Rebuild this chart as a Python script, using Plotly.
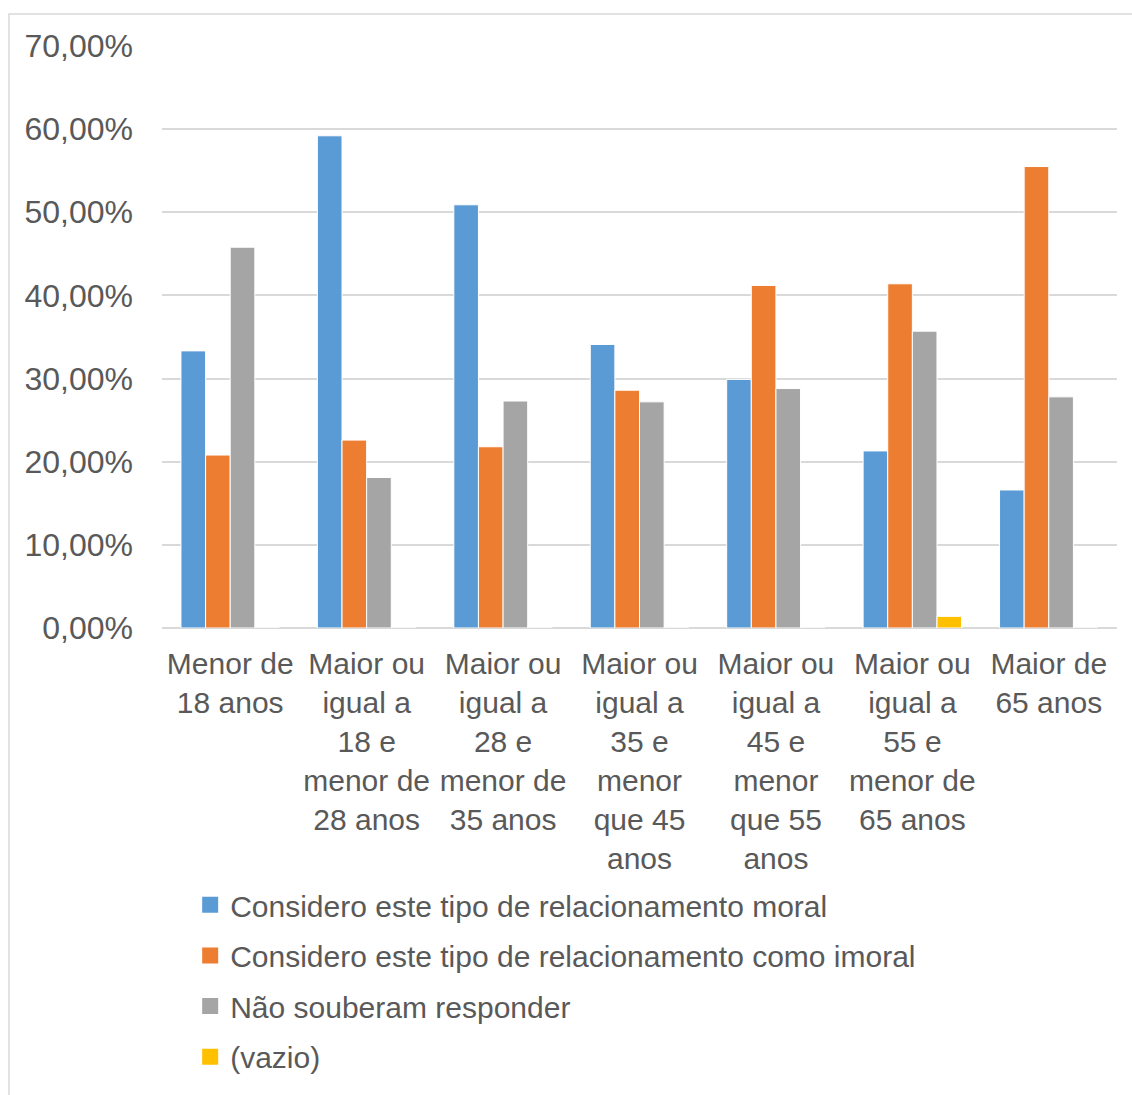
import plotly.graph_objects as go

categories = [
    "Menor de<br>18 anos",
    "Maior ou<br>igual a<br>18 e<br>menor de<br>28 anos",
    "Maior ou<br>igual a<br>28 e<br>menor de<br>35 anos",
    "Maior ou<br>igual a<br>35 e<br>menor<br>que 45<br>anos",
    "Maior ou<br>igual a<br>45 e<br>menor<br>que 55<br>anos",
    "Maior ou<br>igual a<br>55 e<br>menor de<br>65 anos",
    "Maior de<br>65 anos",
]

moral = [33.33, 59.2, 50.9, 34.1, 29.9, 21.3, 16.6]
imoral = [20.8, 22.6, 21.8, 28.6, 41.2, 41.4, 55.5]
nao_souberam = [45.8, 18.1, 27.3, 27.2, 28.8, 35.7, 27.8]
vazio = [0, 0, 0, 0, 0, 1.4, 0]

series_names = [
    "Considero este tipo de relacionamento moral",
    "Considero este tipo de relacionamento como imoral",
    "Não souberam responder",
    "(vazio)",
]
series_values = [moral, imoral, nao_souberam, vazio]
series_colors = ["#5B9BD5", "#ED7D31", "#A5A5A5", "#FFC000"]

TEXT = "#595959"
GRID = "#D9D9D9"
FONT = "Liberation Sans, Arial, sans-serif"

W, H = 1132, 1095
L, R, T, B = 162, 15, 46, 465
pw, ph = W - L - R, H - T - B

fig = go.Figure()
for i, (name, vals, col) in enumerate(zip(series_names, series_values, series_colors)):
    fig.add_trace(go.Bar(
        x=categories, y=vals, name=name,
        marker=dict(color=col, line=dict(color="white", width=1)),
        showlegend=False,
        hoverinfo="skip",
    ))

# legend entries with square swatches
for i, (name, col) in enumerate(zip(series_names, series_colors)):
    fig.add_trace(go.Scatter(
        x=[None], y=[None], mode="markers", name=name,
        marker=dict(symbol="square", size=17, color=col),
        legendgroup=f"g{i}", hoverinfo="skip",
    ))

# outer chart frame
fig.add_shape(
    type="rect", xref="paper", yref="paper",
    x0=(9 - L) / pw, x1=(W + 10 - L) / pw,
    y0=(H - B - (H + 10)) / ph, y1=(H - B - 14) / ph,
    line=dict(color=GRID, width=1.5), fillcolor="rgba(0,0,0,0)", layer="below",
)

fig.update_layout(
    width=W, height=H,
    margin=dict(l=L, r=R, t=T, b=B, pad=0),
    paper_bgcolor="white", plot_bgcolor="white",
    barmode="group", bargap=0.278, bargroupgap=0,
    separators=",.",
    font=dict(family=FONT, color=TEXT, size=30),
    showlegend=True,
    legend=dict(
        orientation="v", x=0.0295, xanchor="left", y=-0.431, yanchor="top",
        font=dict(family=FONT, color=TEXT, size=30),
        tracegroupgap=8.6, traceorder="grouped",
        bgcolor="rgba(0,0,0,0)", borderwidth=0,
    ),
    xaxis=dict(
        type="category", showgrid=False, showline=False, zeroline=False,
        ticks="", tickangle=0, ticklabelstandoff=15,
        tickfont=dict(family=FONT, color=TEXT, size=30),
        fixedrange=True,
    ),
    yaxis=dict(
        range=[0, 70], dtick=10, tick0=0,
        tickformat=".2f", ticksuffix="%",
        showgrid=True, gridcolor=GRID, gridwidth=2,
        zeroline=True, zerolinecolor=GRID, zerolinewidth=2,
        showline=False, ticks="", ticklabelstandoff=28,
        tickfont=dict(family=FONT, color=TEXT, size=32),
        fixedrange=True,
    ),
)

fig.write_html("out.html")
